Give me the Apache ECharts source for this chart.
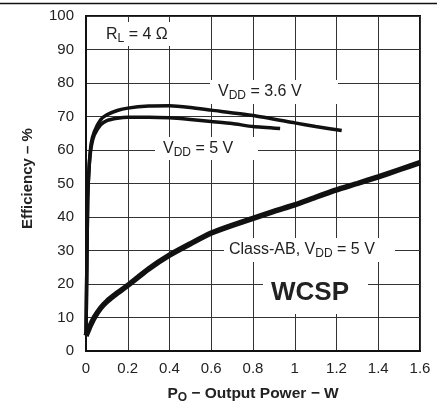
<!DOCTYPE html>
<html><head><meta charset="utf-8">
<script src="https://cdn.jsdelivr.net/npm/echarts@6/dist/echarts.min.js"></script>
<style>html,body{margin:0;padding:0;background:#fff}#c{width:440px;height:402px}</style>
</head><body><div id="c"></div>
<script>
const xTicks = [0, 0.2, 0.4, 0.6, 0.8, 1, 1.2, 1.4, 1.6];
const yTicks = [0, 10, 20, 30, 40, 50, 60, 70, 80, 90, 100];

const power36 = [0, 0.004, 0.008, 0.015, 0.025, 0.04, 0.07, 0.1, 0.15, 0.2, 0.3, 0.4, 0.5, 0.6, 0.8, 1.0, 1.1, 1.225];
const eff36   = [5, 25, 45, 55, 62, 65.5, 69, 70.5, 71.8, 72.5, 73.1, 73.2, 72.7, 71.9, 70.3, 68.1, 67, 65.8];

const power5 = [0, 0.004, 0.008, 0.015, 0.025, 0.04, 0.07, 0.1, 0.15, 0.2, 0.3, 0.4, 0.5, 0.6, 0.7, 0.8, 0.93];
const eff5   = [5, 25, 45, 55, 61, 64.5, 67.5, 68.8, 69.5, 69.8, 69.8, 69.6, 69.1, 68.5, 67.9, 67.0, 66.4];

const powerAB = [0, 0.01, 0.02, 0.04, 0.07, 0.1, 0.15, 0.2, 0.3, 0.4, 0.5, 0.6, 0.7, 0.8, 0.9, 1.0, 1.1, 1.2, 1.3, 1.4, 1.5, 1.6];
const effAB   = [4.5, 6, 7.5, 10, 12.8, 14.8, 17.3, 19.6, 24.5, 28.6, 32, 35.2, 37.5, 39.6, 41.7, 43.6, 45.9, 48.1, 50, 52, 54.1, 56.2];

const pairs = (xs, ys) => xs.map((x, i) => [x, ys[i]]);
const FONT = 'Liberation Sans, Arial, sans-serif';

const chart = echarts.init(document.getElementById('c'), null, {renderer: 'canvas'});

const rich = {
  a: {fontSize: 16, fontFamily: FONT, color: '#222', lineHeight: 20},
  s: {fontSize: 12, fontFamily: FONT, color: '#222', lineHeight: 20, padding: [8, 0, 0, 0]}
};
function label(x, y, w, h, txt, extra) {
  return [
    {type: 'rect', left: x, top: y, z: 1, shape: {width: w, height: h}, style: {fill: '#fff'}},
    Object.assign({type: 'text', z: 2, style: {text: txt, rich: rich, font: '16px ' + FONT, fill: '#222'}}, extra)
  ];
}

const graphic = [
  {type: 'line', z: 5, shape: {x1: 0, y1: 3.5, x2: 437, y2: 3.5}, style: {stroke: '#111', lineWidth: 1.5}},
  ...label(100, 22, 74, 24, '{a|R}{s|L}{a| = 4 Ω}', {left: 106, top: 25}),
  ...label(210, 80, 128, 24, '{a|V}{s|DD}{a| = 3.6 V}', {left: 218, top: 82}),
  ...label(155, 137, 103, 23, '{a|V}{s|DD}{a| = 5 V}', {left: 163, top: 139}),
  ...label(224, 238, 171, 24, '{a|Class-AB, V}{s|DD}{a| = 5 V}', {left: 229, top: 240}),
  {type: 'rect', left: 263, top: 262, z: 1, shape: {width: 105, height: 52}, style: {fill: '#fff'}},
  {type: 'text', left: 271, top: 280, z: 2, style: {text: 'WCSP', font: 'bold 26px ' + FONT, fill: '#222'}}
];

chart.setOption({
  animation: false,
  backgroundColor: '#fff',
  grid: {left: 86, top: 16, right: 20, bottom: 51, containLabel: false, outerBoundsMode: 'none',
         show: true, borderColor: '#111', borderWidth: 2, backgroundColor: 'transparent'},
  xAxis: {
    type: 'value', min: xTicks[0], max: xTicks[xTicks.length - 1], interval: 0.2,
    axisLine: {show: true, lineStyle: {color: '#111', width: 2}},
    axisTick: {show: false},
    axisLabel: {fontSize: 15, fontFamily: FONT, color: '#222', margin: 10, formatter: v => String(Math.round(v * 10) / 10)},
    splitLine: {show: true, lineStyle: {color: '#333', width: 1}},
    name: '{b|P}{s|O}{b| − Output Power − W}', nameLocation: 'middle', nameGap: 33,
    nameTextStyle: {rich: {
      b: {fontSize: 15.5, fontWeight: 'bold', fontFamily: FONT, color: '#222', lineHeight: 20},
      s: {fontSize: 12, fontWeight: 'bold', fontFamily: FONT, color: '#222', lineHeight: 20, padding: [8, 0, 0, 0]}
    }}
  },
  yAxis: {
    type: 'value', min: yTicks[0], max: yTicks[yTicks.length - 1], interval: 10,
    axisLine: {show: true, lineStyle: {color: '#111', width: 2}},
    axisTick: {show: false},
    axisLabel: {fontSize: 15, fontFamily: FONT, color: '#222', margin: 12},
    splitLine: {show: true, lineStyle: {color: '#333', width: 1}},
    name: 'Efficiency – %', nameLocation: 'middle', nameGap: 51,
    nameTextStyle: {fontSize: 15, fontWeight: 'bold', fontFamily: FONT, color: '#222', padding: [0, 0, 0, 10]}
  },
  graphic: graphic,
  series: [
    {type: 'line', z: 10, data: pairs(power36, eff36), showSymbol: false, smooth: 0.2, lineStyle: {color: '#111', width: 3.5}},
    {type: 'line', z: 10, data: pairs(power5, eff5), showSymbol: false, smooth: 0.2, lineStyle: {color: '#111', width: 3.5}},
    {type: 'line', z: 10, data: pairs(powerAB, effAB), showSymbol: false, smooth: 0.2, lineStyle: {color: '#111', width: 5.5}}
  ]
});
</script></body></html>
